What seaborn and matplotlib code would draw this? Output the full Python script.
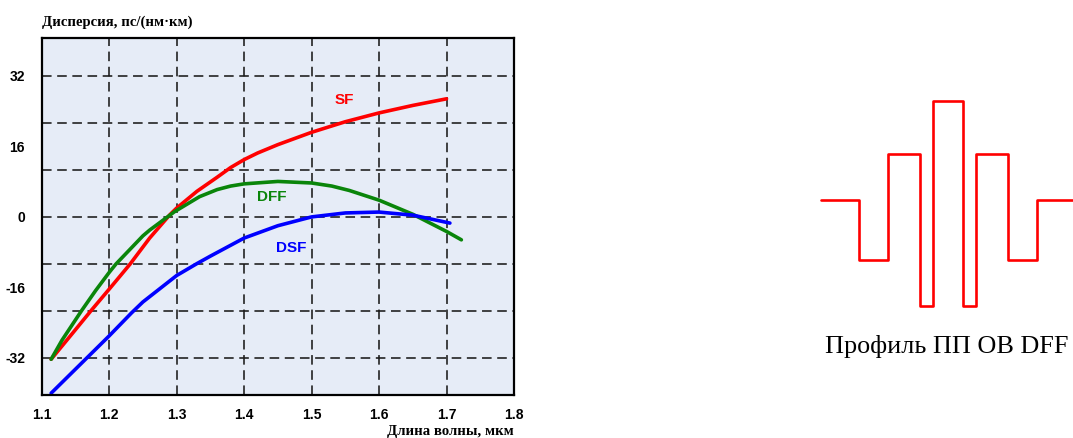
import numpy as np
import pandas as pd
import matplotlib
matplotlib.use("Agg")
import matplotlib.pyplot as plt
import seaborn as sns

# dispersion curves (wavelength, um -> ps/(nm*km))
sf_x = [1.114, 1.15, 1.173, 1.2, 1.231, 1.26, 1.29, 1.3, 1.33, 1.36, 1.38, 1.4,
        1.42, 1.45, 1.5, 1.55, 1.6, 1.65, 1.7]
sf_y = [-32.3, -25.6, -21.3, -16.4, -10.7, -4.8, 0.5, 2.0, 5.8, 9.0, 11.2, 13.0,
        14.5, 16.4, 19.2, 21.6, 23.6, 25.3, 26.8]

dff_x = [1.114, 1.13, 1.159, 1.18, 1.2, 1.21, 1.25, 1.26, 1.297, 1.334, 1.36, 1.38,
         1.4, 1.45, 1.5, 1.53, 1.556, 1.6, 1.65, 1.7, 1.722]
dff_y = [-32.3, -28.0, -21.3, -16.7, -12.6, -10.7, -4.3, -3.0, 1.2, 4.6, 6.2, 7.0,
         7.5, 8.05, 7.7, 7.0, 6.0, 3.8, 0.6, -3.3, -5.2]

dsf_x = [1.114, 1.157, 1.2, 1.233, 1.25, 1.3, 1.33, 1.35, 1.4, 1.45, 1.5, 1.55,
         1.6, 1.65, 1.705]
dsf_y = [-40.0, -33.5, -27.0, -21.8, -19.3, -13.3, -10.6, -8.9, -4.8, -2.0, 0.0, 0.9,
         1.1, 0.4, -1.4]

x_ticks = [1.1, 1.2, 1.3, 1.4, 1.5, 1.6, 1.7, 1.8]
y_ticks = [-32, -16, 0, 16, 32]
y_grid = [-32, -21.33, -10.67, 0, 10.67, 21.33, 32]

# refractive index profile of DFF fibre (step edges and levels)
prof_edges = [-8.66, -6.03, -4.10, -1.88, -1.0, 1.0, 1.88, 4.10, 6.03, 8.5]
prof_levels = [0.0, -1.3, 1.0, -2.3, 2.15, -2.3, 1.0, -1.3, 0.0]

df = pd.concat([
    pd.DataFrame({"x": sf_x, "y": sf_y, "fibre": "SF"}),
    pd.DataFrame({"x": dff_x, "y": dff_y, "fibre": "DFF"}),
    pd.DataFrame({"x": dsf_x, "y": dsf_y, "fibre": "DSF"}),
], ignore_index=True)

colors = {"SF": "#ff0000", "DFF": "#0a850a", "DSF": "#0000ff"}

sns.set_theme(style="white")
plt.rcParams['font.family'] = ['Liberation Sans', 'DejaVu Sans']
plt.rcParams['text.color'] = 'black'
plt.rcParams['xtick.color'] = 'black'
plt.rcParams['ytick.color'] = 'black'

W, H = 1073, 438
fig = plt.figure(figsize=(W / 100, H / 100), dpi=100)

ax = fig.add_axes([41.7 / W, 1 - 394.5 / H, (514 - 41.7) / W, (394.5 - 38) / H])
ax.set_facecolor("#e6ecf7")

sns.lineplot(data=df, x="x", y="y", hue="fibre", palette=colors, sort=False,
             estimator=None, linewidth=2.6, legend=False, ax=ax, zorder=3)

ax.set_xlim(1.1, 1.8)
ax.set_ylim(-40.3, 40.6)
ax.set_xticks(x_ticks)
ax.set_xticklabels([f"{v:.1f}" for v in x_ticks], fontweight="bold", fontsize=10)
ax.set_yticks(y_ticks)
ax.set_yticklabels([str(v) for v in y_ticks], fontweight="bold", fontsize=10)
ax.tick_params(which="both", length=0)
ax.tick_params(axis="x", pad=10)
ax.tick_params(axis="y", pad=12)
grid_style = dict(color="#1a1a1a", linestyle=(0, (6, 3.5)), linewidth=1.15)
ax.xaxis.grid(True, which="major", **grid_style)
for g in y_grid:
    ax.axhline(g, zorder=1, **grid_style)
ax.set_axisbelow(True)
for s in ax.spines.values():
    s.set_visible(True)
    s.set_color("black")
    s.set_linewidth(1.6)
    s.set_zorder(4)
ax.set_xlabel("")
ax.set_ylabel("")

ax.text(1.549, 26.6, "SF", color=colors["SF"], fontsize=11, fontweight="bold",
        ha="center", va="center")
ax.text(1.441, 4.6, "DFF", color=colors["DFF"], fontsize=11, fontweight="bold",
        ha="center", va="center")
ax.text(1.470, -7.0, "DSF", color=colors["DSF"], fontsize=11, fontweight="bold",
        ha="center", va="center")

fig.text(41.7 / W, 1 - 22 / H, "Дисперсия, пс/(нм·км)", family="Liberation Serif",
         fontweight="bold", fontsize=10.6, ha="left", va="center")
fig.text(514 / W, 1 - 431 / H, "Длина волны, мкм", family="Liberation Serif",
         fontweight="bold", fontsize=10.6, ha="right", va="center")

# profile panel
ax2 = fig.add_axes([820.7 / W, 1 - 315 / H, (1073 - 820.7) / W, 220 / H])
ax2.step(prof_edges, prof_levels + [prof_levels[-1]], where="post",
         color="#ff0000", linewidth=1.9, clip_on=False)
ax2.set_xlim(-8.66, 8.5)
ax2.set_ylim(-2.5, 2.28)
ax2.axis("off")

fig.text(947 / W, 1 - 347 / H, "Профиль ПП ОВ DFF", family="Liberation Serif",
         fontsize=18.8, ha="center", va="center")

fig.savefig("out.png", dpi=100, facecolor="white")
